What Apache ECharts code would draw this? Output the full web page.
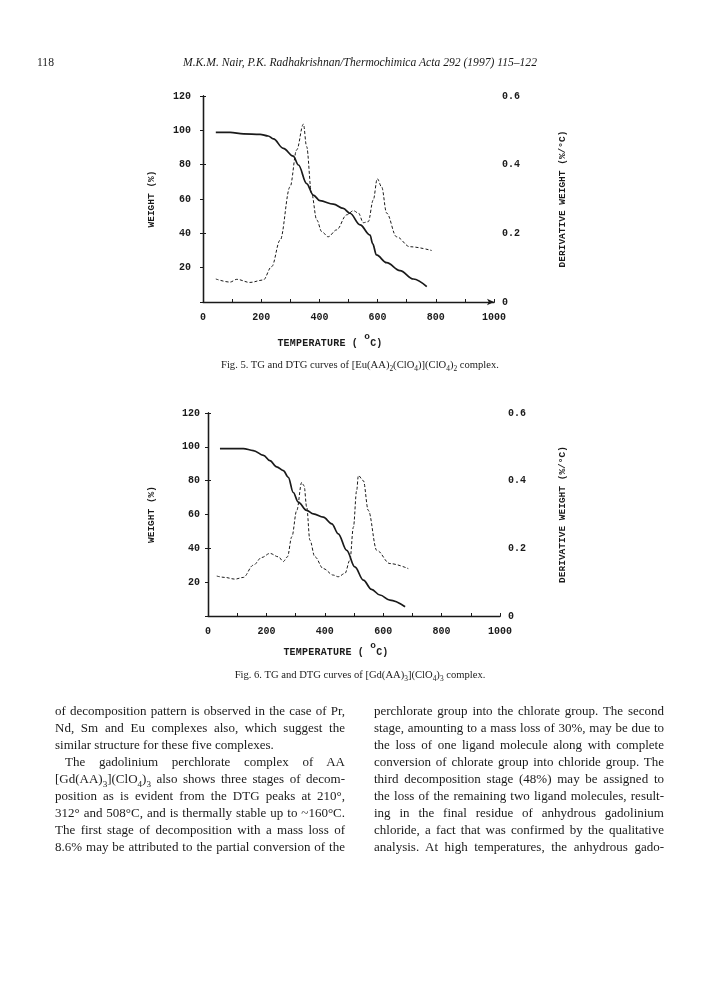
<!DOCTYPE html>
<html>
<head>
<meta charset="utf-8">
<script src="https://cdn.jsdelivr.net/npm/echarts@6/dist/echarts.min.js"></script>
<style>
  html, body { margin:0; padding:0; background:#fff; }
  #page { position:relative; width:720px; height:999px; overflow:hidden; background:#fff; }
  #chart { position:absolute; left:0; top:0; width:720px; height:999px; }
  .txt { position:absolute; color:#1a1a1a; font-family:"Liberation Serif","DejaVu Serif",serif; z-index:2; }
  .hdr { top:56px; font-size:11.6px; }
  .cap { font-size:10.6px; text-align:center; width:720px; left:0; }
  .temp { font-family:"Liberation Mono",monospace; font-weight:bold; font-size:10px; text-align:center; width:300px; letter-spacing:0.2px; }
  .temp sup { font-size:9.5px; position:relative; top:-3px; }
  .col { top:702px; width:290px; font-size:13px; line-height:17px; }
  .col div { text-align:justify; text-align-last:justify; white-space:nowrap; }
  .col div.last { text-align-last:left; }
  .col div.ind { text-indent:10px; }
  sub { font-size:70%; line-height:0; }
</style>
</head>
<body>
<div id="page">
  <div id="chart"></div>
  <div class="txt hdr" style="left:37px;">118</div>
  <div class="txt hdr" style="left:0;width:720px;text-align:center;font-style:italic;">M.K.M. Nair, P.K. Radhakrishnan/Thermochimica Acta 292 (1997) 115–122</div>

  <div class="txt temp" style="left:180px;top:334px;">TEMPERATURE ( <sup>o</sup>C)</div>
  <div class="txt cap" style="top:359px;">Fig. 5. TG and DTG curves of [Eu(AA)<sub>2</sub>(ClO<sub>4</sub>)](ClO<sub>4</sub>)<sub>2</sub> complex.</div>

  <div class="txt temp" style="left:186px;top:643px;">TEMPERATURE ( <sup>o</sup>C)</div>
  <div class="txt cap" style="top:669px;">Fig. 6. TG and DTG curves of [Gd(AA)<sub>3</sub>](ClO<sub>4</sub>)<sub>3</sub> complex.</div>

  <div class="txt col" style="left:55px;">
    <div>of decomposition pattern is observed in the case of Pr,</div>
    <div>Nd, Sm and Eu complexes also, which suggest the</div>
    <div class="last">similar structure for these five complexes.</div>
    <div class="ind">The gadolinium perchlorate complex of AA</div>
    <div>[Gd(AA)<sub>3</sub>](ClO<sub>4</sub>)<sub>3</sub> also shows three stages of decom-</div>
    <div>position as is evident from the DTG peaks at 210°,</div>
    <div>312° and 508°C, and is thermally stable up to ~160°C.</div>
    <div>The first stage of decomposition with a mass loss of</div>
    <div>8.6% may be attributed to the partial conversion of the</div>
  </div>
  <div class="txt col" style="left:374px;">
    <div>perchlorate group into the chlorate group. The second</div>
    <div>stage, amounting to a mass loss of 30%, may be due to</div>
    <div>the loss of one ligand molecule along with complete</div>
    <div>conversion of chlorate group into chloride group. The</div>
    <div>third decomposition stage (48%) may be assigned to</div>
    <div>the loss of the remaining two ligand molecules, result-</div>
    <div>ing in the final residue of anhydrous gadolinium</div>
    <div>chloride, a fact that was confirmed by the qualitative</div>
    <div>analysis. At high temperatures, the anhydrous gado-</div>
  </div>
</div>
<script>
// ---- Data ----
const tempTicks = [0, 200, 400, 600, 800, 1000];
const weightTicks = [20, 40, 60, 80, 100, 120];
const derivTicks = [0, 0.2, 0.4, 0.6];

// Fig. 5  [Eu(AA)2(ClO4)](ClO4)2
const fig5TgTemp   = [44, 93, 139, 196, 224, 242, 276, 310, 328, 356, 379, 402, 448, 482, 505, 540, 574, 583, 596, 631, 677, 723, 769];
const fig5TgWeight = [98.8, 98.8, 97.9, 97.7, 96.7, 95, 89.5, 85, 79.8, 69, 62.3, 59, 57, 54.5, 51.7, 44.9, 39, 34, 27.4, 22.9, 18.3, 13.4, 8.9];
const fig5DtgTemp  = [44, 93, 116, 161, 207, 236, 265, 299, 322, 345, 356, 373, 391, 408, 430, 459, 494, 517, 534, 551, 568, 585, 599, 614, 631, 665, 711, 786];
const fig5Dtg      = [0.067, 0.058, 0.066, 0.057, 0.064, 0.103, 0.18, 0.335, 0.443, 0.518, 0.453, 0.317, 0.239, 0.205, 0.19, 0.21, 0.254, 0.266, 0.259, 0.231, 0.234, 0.297, 0.359, 0.335, 0.259, 0.19, 0.161, 0.15];

// Fig. 6  [Gd(AA)3](ClO4)3
const fig6TgTemp   = [41, 121, 155, 190, 212, 235, 258, 275, 292, 309, 338, 361, 395, 424, 446, 475, 503, 532, 560, 589, 623, 675];
const fig6TgWeight = [99, 99, 97.8, 95, 91.8, 88.2, 85.9, 82, 73, 67.3, 62.4, 60.4, 58.4, 54.5, 48.6, 38.8, 29, 21.2, 15.7, 12.4, 9.4, 5.5];
const fig6DtgTemp  = [30, 58, 92, 121, 155, 184, 212, 241, 258, 272, 287, 304, 321, 329, 338, 349, 366, 395, 429, 446, 469, 486, 498, 509, 515, 532, 549, 578, 623, 686];
const fig6Dtg      = [0.118, 0.114, 0.109, 0.114, 0.15, 0.173, 0.185, 0.175, 0.161, 0.175, 0.234, 0.312, 0.395, 0.385, 0.322, 0.224, 0.175, 0.14, 0.121, 0.116, 0.126, 0.165, 0.263, 0.37, 0.415, 0.4, 0.312, 0.194, 0.155, 0.14];

const zip = (a, b) => a.map((v, i) => [v, b[i]]);

const INK = '#1a1a1a';
const monoBold = { fontFamily: 'Liberation Mono, DejaVu Sans Mono, monospace', fontWeight: 'bold', color: INK };

function xAxes(gi, arrow) {
  return [
    {
      type: 'value', gridIndex: gi, position: 'bottom', min: 0, max: 1000, interval: 200,
      axisLine: { lineStyle: { color: INK, width: 1.3 } },
      axisTick: { show: true, length: 3, inside: true, lineStyle: { color: INK } },
      minorTick: { show: true, splitNumber: 2, length: 3, lineStyle: { color: INK } },
      splitLine: { show: false },
      axisLabel: Object.assign({ fontSize: 10, margin: 10, formatter: v => tempTicks.includes(v) ? String(v) : '' }, monoBold)
    },
    {
      type: 'value', gridIndex: gi, position: 'top', min: 0, max: 1000,
      axisLine: { lineStyle: { color: INK, width: 1.1 }, symbol: arrow ? ['none', 'arrow'] : ['none', 'none'], symbolSize: [5, 7] },
      axisTick: { show: false }, axisLabel: { show: false }, splitLine: { show: false }
    }
  ];
}

function yAxes(gi, leftGap, rightGap, leftMargin) {
  return [
    {
      type: 'value', gridIndex: gi, position: 'left', min: 0, max: 120, interval: 20,
      name: 'WEIGHT (%)', nameLocation: 'middle', nameRotate: 90, nameGap: leftGap,
      nameTextStyle: Object.assign({ fontSize: 9.5 }, monoBold),
      axisLine: { lineStyle: { color: INK, width: 1.3 } },
      axisTick: { show: true, length: 3, inside: false, lineStyle: { color: INK } },
      splitLine: { show: false },
      axisLabel: Object.assign({ fontSize: 10, margin: leftMargin, formatter: v => weightTicks.includes(v) ? String(v) : '' }, monoBold)
    },
    {
      type: 'value', gridIndex: gi, position: 'right', min: 0, max: 0.6, interval: 0.2,
      name: 'DERIVATIVE WEIGHT (%/°C)', nameLocation: 'middle', nameRotate: 90, nameGap: rightGap,
      nameTextStyle: Object.assign({ fontSize: 9.5 }, monoBold),
      axisLine: { lineStyle: { color: INK, width: 1.3 } },
      axisTick: { show: true, length: 3, inside: false, lineStyle: { color: INK } },
      splitLine: { show: false },
      axisLabel: Object.assign({ fontSize: 10, margin: 8, formatter: v => {
        const m = derivTicks.find(t => Math.abs(t - v) < 1e-6);
        return m === undefined ? '' : (m === 0 ? '0' : m.toFixed(1));
      } }, monoBold)
    }
  ];
}

const tgStyle = { color: INK, width: 1.7 };
const dtgStyle = { color: INK, width: 1, type: [3, 2] };

const option = {
  animation: false,
  backgroundColor: 'transparent',
  grid: [
    { left: 203, top: 96, width: 291, height: 206 },
    { left: 208, top: 413, width: 292, height: 203 }
  ],
  xAxis: [...xAxes(0, true), ...xAxes(1, false)],
  yAxis: [...yAxes(0, 46, 64, 12), ...yAxes(1, 51, 58, 8)],
  series: [
    { type: 'line', xAxisIndex: 0, yAxisIndex: 0, data: zip(fig5TgTemp, fig5TgWeight), smooth: 0.35, smoothMonotone: 'x', showSymbol: false, lineStyle: tgStyle },
    { type: 'line', xAxisIndex: 0, yAxisIndex: 1, data: zip(fig5DtgTemp, fig5Dtg), smooth: 0.35, smoothMonotone: 'x', showSymbol: false, lineStyle: dtgStyle },
    { type: 'line', xAxisIndex: 2, yAxisIndex: 2, data: zip(fig6TgTemp, fig6TgWeight), smooth: 0.35, smoothMonotone: 'x', showSymbol: false, lineStyle: tgStyle },
    { type: 'line', xAxisIndex: 2, yAxisIndex: 3, data: zip(fig6DtgTemp, fig6Dtg), smooth: 0.35, smoothMonotone: 'x', showSymbol: false, lineStyle: dtgStyle }
  ]
};

const chart = echarts.init(document.getElementById('chart'), null, { renderer: 'canvas' });
chart.setOption(option);
</script>
</body>
</html>
